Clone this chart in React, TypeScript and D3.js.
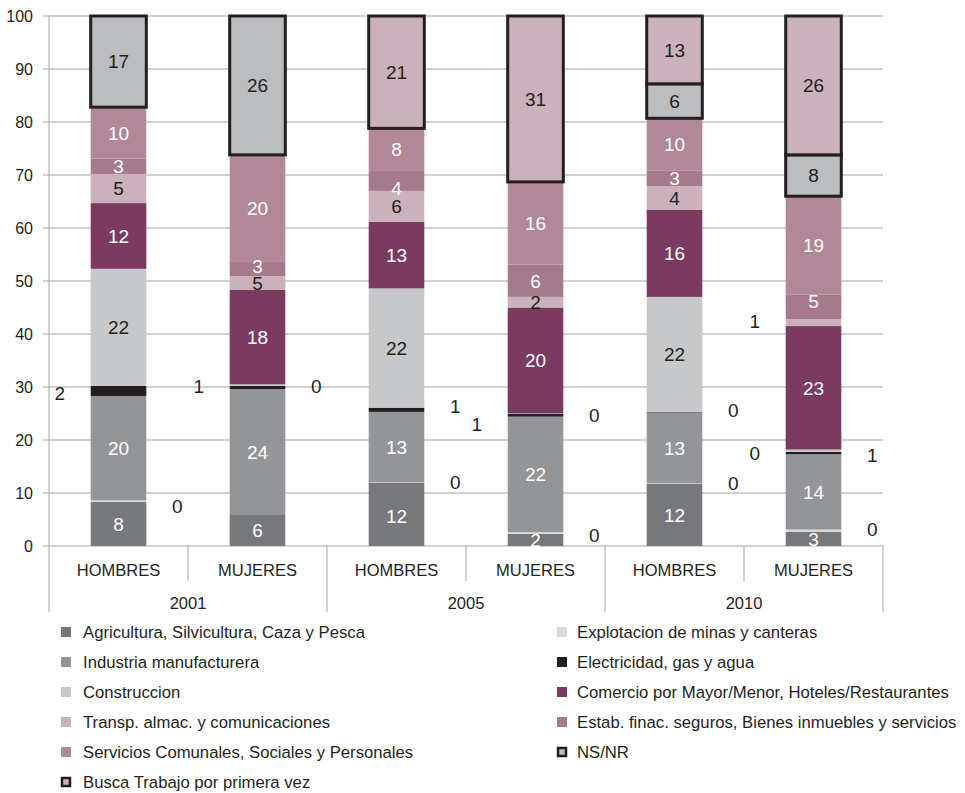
import React from "react";
import * as d3 from "d3";

// ---------- DATA ----------
const years = ["2001", "2005", "2010"];
const sexes = ["HOMBRES", "MUJERES"];
const barIds = ["2001-H", "2001-M", "2005-H", "2005-M", "2010-H", "2010-M"];
const yTicks = [0, 10, 20, 30, 40, 50, 60, 70, 80, 90, 100];

const seriesNames = [
  "Agricultura, Silvicultura, Caza y Pesca",
  "Explotacion de minas y canteras",
  "Industria manufacturera",
  "Electricidad, gas y agua",
  "Construccion",
  "Comercio por Mayor/Menor, Hoteles/Restaurantes",
  "Transp. almac. y comunicaciones",
  "Estab. finac. seguros, Bienes inmuebles y servicios",
  "Servicios Comunales, Sociales y Personales",
  "NS/NR",
  "Busca Trabajo por primera vez",
];

// values (per bar, in barIds order)
const agricultura = [8.3, 6.0, 11.9, 2.3, 11.7, 2.7];
const explotacion = [0.3, 0, 0.1, 0.3, 0.1, 0.4];
const industria = [19.7, 23.6, 13.3, 21.8, 13.4, 14.2];
const electricidad = [1.9, 0.6, 0.8, 0.5, 0.1, 0.45];
const construccion = [22.1, 0.3, 22.5, 0.1, 21.7, 0.45];
const comercio = [12.4, 17.8, 12.6, 20.0, 16.4, 23.3];
const transporte = [5.5, 2.6, 5.8, 2.0, 4.5, 1.3];
const financieros = [2.9, 2.7, 3.9, 6.1, 2.9, 4.6];
const servicios = [9.7, 20.2, 7.9, 15.6, 9.9, 18.6];
const nsnr = [17.2, 26.2, 0, 0, 6.5, 7.8];
const buscaTrabajo = [0, 0, 21.2, 31.3, 12.8, 26.2];

// data labels as printed on the chart
const agriculturaLabels = ["8", "6", "12", "2", "12", "3"];
const explotacionLabels = ["0", null, "0", "0", "0", "0"];
const industriaLabels = ["20", "24", "13", "22", "13", "14"];
const electricidadLabels = ["2", "1", "1", "1", "0", "1"];
const construccionLabels = ["22", "0", "22", "0", "22", "0"];
const comercioLabels = ["12", "18", "13", "20", "16", "23"];
const transporteLabels = ["5", "5", "6", "2", "4", "1"];
const financierosLabels = ["3", "3", "4", "6", "3", "5"];
const serviciosLabels = ["10", "20", "8", "16", "10", "19"];
const nsnrLabels = ["17", "26", null, null, "6", "8"];
const buscaTrabajoLabels = [null, null, "21", "31", "13", "26"];

// ---------- STYLE / LAYOUT ----------
const seriesValues = [agricultura, explotacion, industria, electricidad, construccion, comercio, transporte, financieros, servicios, nsnr, buscaTrabajo];
const seriesLabels = [agriculturaLabels, explotacionLabels, industriaLabels, electricidadLabels, construccionLabels, comercioLabels, transporteLabels, financierosLabels, serviciosLabels, nsnrLabels, buscaTrabajoLabels];
const fills = ["#77787b", "#d9dadc", "#939598", "#231f20", "#c7c8ca", "#7b3a5f", "#cbb1bb", "#a47a8c", "#b08898", "#bcbdc0", "#cbb1bb"];
const textFills = ["#fff", "#231f20", "#fff", "#fff", "#231f20", "#fff", "#231f20", "#fff", "#fff", "#231f20", "#231f20"];
const outlined = [false, false, false, false, false, false, false, false, false, true, true];

// labels drawn beside the bar: [bar index, series index, side (-1 left / 1 right), dy]
const outsideLabels: [number, number, number, number][] = [
  [0, 3, -1, 2], [0, 1, 1, 5],
  [1, 3, -1, -1], [1, 4, 1, 1],
  [2, 3, 1, -4], [2, 1, 1, -1],
  [3, 3, -1, 9], [3, 4, 1, 1], [3, 1, 1, 2],
  [4, 3, 1, -2], [4, 1, 1, -1],
  [5, 6, -1, -1], [5, 4, -1, 2], [5, 3, 1, 2], [5, 1, 1, -1],
];
// vertical nudges for some inside labels: [bar index, series index, dy]
const insideNudges: [number, number, number][] = [
  [1, 7, -3], [2, 7, 8], [5, 7, -6], [2, 0, 2],
];

const W = 965, H = 793;
const FONT = "'Liberation Sans', Arial, sans-serif";

export default function App() {
  const x = d3.scaleBand<string>().domain(barIds).range([49, 883]).padding(0);
  const y = d3.scaleLinear().domain([0, 100]).range([546, 16]);
  const bw = x.bandwidth() * 0.4;

  const keys = seriesNames.map((_, i) => String(i));
  const rows = barIds.map((id, b) => {
    const r: any = { id };
    seriesValues.forEach((v, i) => (r[String(i)] = v[b]));
    return r;
  });
  const stacked = d3.stack<any>().keys(keys)(rows);

  const outsideSet = new Set(outsideLabels.map(([b, s]) => `${b}-${s}`));
  const nudge = new Map(insideNudges.map(([b, s, dy]) => [`${b}-${s}`, dy]));

  const segs: any[] = [];
  const outlinedSegs: any[] = [];
  const labels: any[] = [];

  stacked.forEach((layer, s) => {
    layer.forEach((d, b) => {
      const v = d[1] - d[0];
      const x0 = (x(barIds[b]) as number) + (x.bandwidth() - bw) / 2;
      if (v > 0) {
        const el = (
          <rect
            key={`r${s}-${b}`}
            x={x0}
            y={y(d[1])}
            width={bw}
            height={y(d[0]) - y(d[1])}
            fill={fills[s]}
            stroke={outlined[s] ? "#231f20" : "none"}
            strokeWidth={outlined[s] ? 3 : 0}
          />
        );
        (outlined[s] ? outlinedSegs : segs).push(el);
      }
      const lab = seriesLabels[s][b];
      if (lab != null && !outsideSet.has(`${b}-${s}`)) {
        labels.push(
          <text
            key={`t${s}-${b}`}
            x={x0 + bw / 2}
            y={y((d[0] + d[1]) / 2) + (nudge.get(`${b}-${s}`) || 0)}
            dy="0.36em"
            textAnchor="middle"
            fontSize={19}
            fill={textFills[s]}
          >
            {lab}
          </text>
        );
      }
    });
  });

  outsideLabels.forEach(([b, s, side, dy]) => {
    const d = stacked[s][b];
    const cx = (x(barIds[b]) as number) + x.bandwidth() / 2 + side * (bw / 2 + 31);
    labels.push(
      <text
        key={`o${s}-${b}`}
        x={cx}
        y={y((d[0] + d[1]) / 2) + dy}
        dy="0.36em"
        textAnchor="middle"
        fontSize={19}
        fill="#231f20"
      >
        {seriesLabels[s][b]}
      </text>
    );
  });

  const [left, right] = x.range();
  const yearWidth = x.bandwidth() * 2;

  return (
    <svg
      width={W}
      height={H}
      style={{ position: "absolute", left: 0, top: 0, fontFamily: FONT }}
    >
      <rect width={W} height={H} fill="#fff" />
      {/* gridlines + y ticks */}
      {yTicks.map((t) => (
        <g key={t}>
          <line x1={left - 6} x2={right} y1={y(t)} y2={y(t)} stroke="#a3a3a3" strokeWidth={1} />
          <text x={33} y={y(t)} dy="0.36em" textAnchor="end" fontSize={16} fill="#231f20">
            {t}
          </text>
        </g>
      ))}
      <line x1={left} x2={left} y1={y(100)} y2={y(0)} stroke="#a3a3a3" />
      {/* x axis separators */}
      {barIds.map((id, i) => {
        const xs = x(id) as number;
        return (
          <line
            key={`sep${i}`}
            x1={xs}
            x2={xs}
            y1={y(0)}
            y2={i % 2 === 0 ? 612 : 581}
            stroke="#a3a3a3"
          />
        );
      })}
      <line x1={right} x2={right} y1={y(0)} y2={612} stroke="#a3a3a3" />
      {barIds.map((id, i) => (
        <text
          key={`cat${i}`}
          x={(x(id) as number) + x.bandwidth() / 2}
          y={570}
          dy="0.36em"
          textAnchor="middle"
          fontSize={16.5}
          fill="#231f20"
        >
          {sexes[i % 2]}
        </text>
      ))}
      {years.map((yr, i) => (
        <text
          key={yr}
          x={left + yearWidth * i + yearWidth / 2}
          y={603}
          dy="0.36em"
          textAnchor="middle"
          fontSize={16.5}
          fill="#231f20"
        >
          {yr}
        </text>
      ))}
      {/* bars */}
      {segs}
      {outlinedSegs}
      {labels}
      {/* legend */}
      {seriesNames.map((name, i) => {
        const col = i % 2;
        const row = Math.floor(i / 2);
        const mx = col === 0 ? 61 : 557;
        const tx = col === 0 ? 83 : 577;
        const cy = 632 + row * 30;
        return (
          <g key={`lg${i}`}>
            {outlined[i] ? (
              <rect x={mx + 1} y={cy - 4} width={8} height={8} fill={fills[i]} stroke="#231f20" strokeWidth={2.5} />
            ) : (
              <rect x={mx} y={cy - 5} width={10} height={10} fill={fills[i]} />
            )}
            <text x={tx} y={cy} dy="0.36em" fontSize={16.7} fill="#231f20">
              {name}
            </text>
          </g>
        );
      })}
    </svg>
  );
}
